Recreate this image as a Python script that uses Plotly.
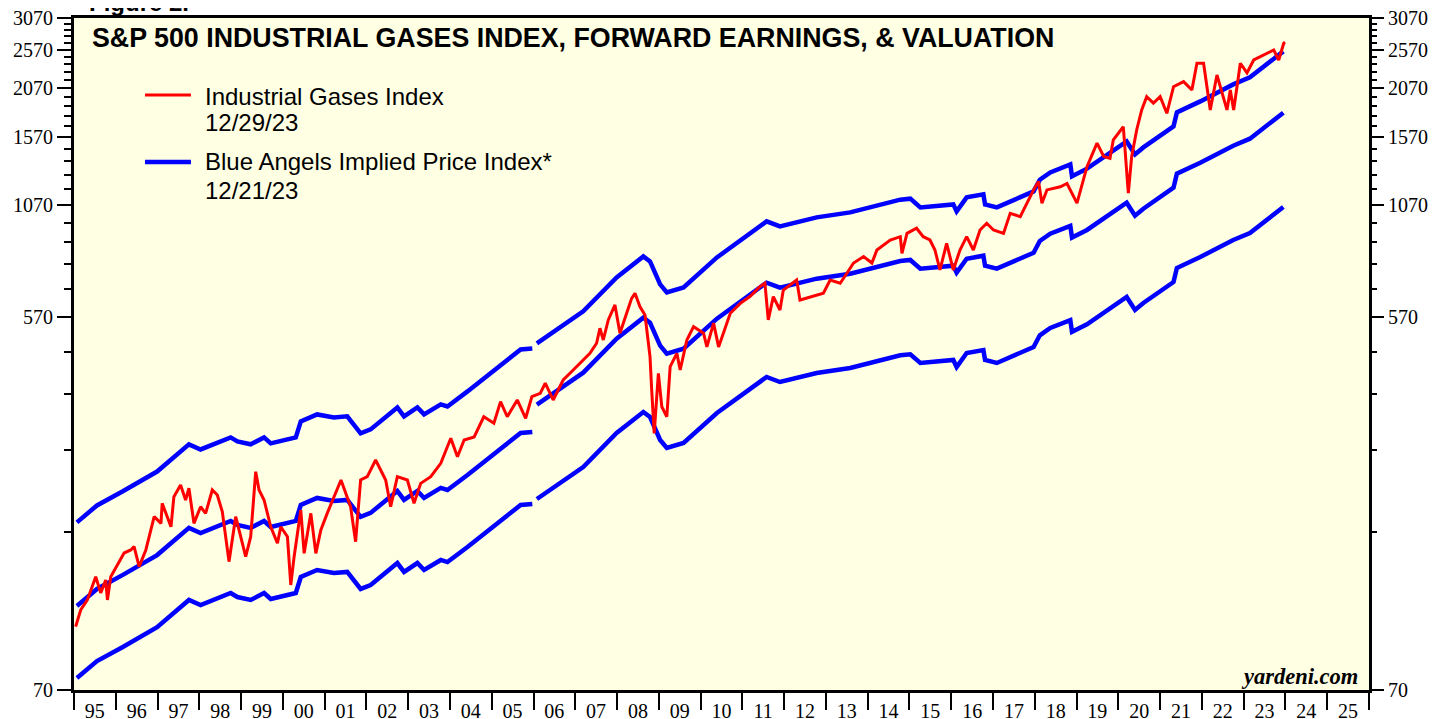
import math
import plotly.graph_objects as go
from datetime import datetime, timedelta

# ---------------- DATA ----------------
# S&P 500 Industrial Gases Index (decimal year, index level)
red_years = [1995.04, 1995.16, 1995.32, 1995.52, 1995.64, 1995.76, 1995.80, 1995.88, 1996.20, 1996.36,
             1996.44, 1996.56, 1996.72, 1996.92, 1997.08, 1997.11, 1997.32, 1997.39, 1997.55, 1997.67,
             1997.75, 1997.87, 1998.03, 1998.15, 1998.31, 1998.43, 1998.55, 1998.71, 1998.87, 1998.99,
             1999.11, 1999.23, 1999.35, 1999.43, 1999.55, 1999.71, 1999.87, 1999.95, 2000.11, 2000.19,
             2000.27, 2000.43, 2000.51, 2000.67, 2000.79, 2000.91, 2001.06, 2001.39, 2001.54, 2001.62,
             2001.74, 2001.86, 2002.02, 2002.22, 2002.34, 2002.46, 2002.58, 2002.74, 2002.98, 2003.14,
             2003.30, 2003.54, 2003.78, 2004.02, 2004.18, 2004.34, 2004.58, 2004.81, 2005.05, 2005.21,
             2005.37, 2005.61, 2005.81, 2005.96, 2006.16, 2006.28, 2006.47, 2006.71, 2006.95, 2007.11,
             2007.35, 2007.51, 2007.59, 2007.67, 2007.79, 2007.95, 2008.07, 2008.23, 2008.35, 2008.43,
             2008.55, 2008.67, 2008.79, 2008.83, 2008.89, 2008.99, 2009.07, 2009.19, 2009.27, 2009.43,
             2009.51, 2009.67, 2009.83, 2010.07, 2010.15, 2010.31, 2010.43, 2010.71, 2010.95, 2011.18,
             2011.42, 2011.54, 2011.62, 2011.74, 2011.90, 2011.98, 2012.30, 2012.38, 2012.70, 2012.94,
             2013.10, 2013.34, 2013.50, 2013.66, 2013.90, 2014.10, 2014.22, 2014.54, 2014.78, 2014.82,
             2014.94, 2015.17, 2015.33, 2015.49, 2015.61, 2015.73, 2015.89, 2016.05, 2016.21, 2016.37,
             2016.53, 2016.69, 2016.85, 2017.01, 2017.25, 2017.41, 2017.65, 2017.81, 2017.97, 2018.09,
             2018.17, 2018.29, 2018.61, 2018.77, 2018.85, 2019.01, 2019.25, 2019.49, 2019.65, 2019.80,
             2019.88, 2020.12, 2020.24, 2020.32, 2020.44, 2020.56, 2020.68, 2020.84, 2021.00, 2021.16,
             2021.32, 2021.56, 2021.76, 2021.88, 2022.04, 2022.20, 2022.36, 2022.52, 2022.60, 2022.68,
             2022.76, 2022.92, 2023.08, 2023.24, 2023.40, 2023.56, 2023.72, 2023.84, 2023.96, 2023.99]
red_values = [100, 109.8, 116.2, 132.4, 120.9, 130.0, 116.2, 132.4, 151.3, 153.9,
              156.8, 140.1, 153.9, 185.6, 178.8, 200.1, 175.4, 207.7, 221.9, 203.9,
              217.8, 178.8, 196.3, 189.1, 215.7, 209.7, 190.8, 144.1, 185.6, 165.9,
              148.2, 165.9, 239.1, 215.7, 203.9, 175.4, 159.8, 175.4, 165.9, 126.4,
              148.2, 192.7, 151.0, 189.1, 151.0, 172.2, 189.1, 228.2, 207.7, 196.3,
              161.2, 228.2, 232.5, 255.3, 241.4, 228.2, 196.3, 232.5, 228.2, 200.1,
              223.9, 232.5, 250.6, 288.5, 260.1, 285.8, 290.6, 325.7, 314.0, 354.5,
              325.7, 357.9, 322.9, 364.6, 371.6, 393.3, 357.9, 400.5, 423.7, 439.9,
              465.3, 492.5, 535.8, 501.6, 561.4, 610.9, 520.9, 582.9, 634.2, 652.3,
              604.8, 577.4, 456.6, 378.6, 296.6, 415.9, 344.6, 325.7, 432.0, 465.3,
              423.7, 501.6, 540.6, 520.9, 482.5, 551.6, 482.5, 582.9, 616.5, 640.3,
              677.4, 690.3, 561.4, 640.3, 593.8, 664.5, 703.0, 628.2, 640.3, 652.3,
              703.0, 690.3, 730.1, 773.3, 802.0, 773.3, 832.3, 880.5, 897.0, 817.0,
              913.9, 940.5, 897.0, 880.5, 832.3, 743.6, 863.9, 743.6, 832.3, 897.0,
              832.3, 931.4, 967.2, 931.4, 913.9, 1023, 1004, 1083, 1167, 1223,
              1083, 1167, 1188, 1210, 1167, 1083, 1330, 1518, 1408, 1394,
              1546, 1665, 1146, 1408, 1635, 1830, 1972, 1901, 1972, 1796,
              2086, 2146, 2047, 2380, 2380, 1830, 2228, 1936, 1830, 2047,
              1830, 2380, 2254, 2424, 2470, 2516, 2564, 2424, 2664, 2680]

# Forward earnings (decimal year, $/share), series before and after the 2006 break
eps_years_pre = [1995.07, 1995.55, 1996.17, 1996.82, 1996.99, 1997.75, 1998.03, 1998.75, 1998.91, 1999.23,
                 1999.55, 1999.71, 2000.11, 2000.31, 2000.43, 2000.82, 2001.22, 2001.54, 2001.86, 2002.10,
                 2002.74, 2002.90, 2003.22, 2003.38, 2003.78, 2003.94, 2004.42, 2005.13, 2005.69, 2005.97]
eps_values_pre = [7.49, 8.24, 8.92, 9.70, 9.97, 11.62, 11.29, 12.08, 11.81, 11.62,
                  12.08, 11.68, 11.95, 12.08, 13.22, 13.75, 13.52, 13.60, 12.36, 12.64,
                  14.30, 13.60, 14.30, 13.75, 14.55, 14.38, 15.65, 17.91, 19.82, 19.93]
eps_years_post = [2006.08, 2007.19, 2007.99, 2008.63, 2008.79, 2009.03, 2009.19, 2009.59, 2010.39, 2011.18,
                  2011.58, 2011.90, 2012.78, 2013.58, 2014.78, 2015.02, 2015.26, 2016.05, 2016.13, 2016.37,
                  2016.77, 2016.81, 2017.09, 2017.97, 2018.12, 2018.37, 2018.75, 2018.85, 2018.89, 2019.25,
                  2020.20, 2020.40, 2020.60, 2021.32, 2021.40, 2021.96, 2022.75, 2023.15, 2023.95]
eps_values_post = [20.50, 24.55, 29.72, 33.45, 32.52, 28.58, 27.32, 28.10, 33.26, 37.86,
                   40.73, 39.60, 41.66, 42.85, 46.03, 46.29, 44.07, 44.82, 43.09, 46.62,
                   47.41, 44.82, 44.07, 48.22, 51.5, 53.66, 55.8, 56.1, 52.5, 54.8,
                   63.88, 59.38, 61.76, 69.51, 75.21, 80.01, 88.05, 91.58, 106.0]

multiples_pre = [24, 15, 10]
multiples_post = [24, 17, 10]
multiple_labels = ["x24", "x17", "x10"]

y_major = [70, 570, 1070, 1570, 2070, 2570, 3070]
y_minor = [v for v in range(170, 3070, 100) if v not in y_major]
year_labels = ["95", "96", "97", "98", "99", "00", "01", "02", "03", "04", "05", "06", "07", "08", "09",
               "10", "11", "12", "13", "14", "15", "16", "17", "18", "19", "20", "21", "22", "23", "24", "25"]
first_year = 1995


def to_date(y):
    yr = int(y)
    return datetime(yr, 1, 1) + timedelta(days=(y - yr) * 365.25)


red_dates = [to_date(y) for y in red_years]
pre_dates = [to_date(y) for y in eps_years_pre]
post_dates = [to_date(y) for y in eps_years_post]

RED = "#FF0000"
BLUE = "#0000FF"
SERIF = "Liberation Serif, Times New Roman, serif"
SANS = "Liberation Sans, Arial, sans-serif"

fig = go.Figure()

for m in multiples_pre:
    fig.add_trace(go.Scatter(x=pre_dates, y=[e * m for e in eps_values_pre], mode="lines",
                             line=dict(color=BLUE, width=4.5), showlegend=False, hoverinfo="skip"))
for m in multiples_post:
    fig.add_trace(go.Scatter(x=post_dates, y=[e * m for e in eps_values_post], mode="lines",
                             line=dict(color=BLUE, width=4.5), showlegend=False, hoverinfo="skip"))

fig.add_trace(go.Scatter(x=red_dates, y=red_values, mode="lines",
                         line=dict(color=RED, width=3), showlegend=False))

# empty trace to carry the right-hand axis
fig.add_trace(go.Scatter(x=[None], y=[None], yaxis="y2", showlegend=False, hoverinfo="skip"))

# multiple labels at the right end of each blue line
for m, lab in zip(multiples_post, multiple_labels):
    fig.add_annotation(x=post_dates[-1], y=eps_values_post[-1] * m, text=lab, showarrow=False,
                       xanchor="left", yanchor="middle", xshift=10,
                       font=dict(family=SANS, size=20, color=BLUE))

xstart = datetime(first_year, 1, 1)
xend = datetime(first_year + len(year_labels), 1, 1)
mid_ticks = [datetime(first_year + i, 7, 2) for i in range(len(year_labels))]
year_bounds = [datetime(first_year + i, 1, 1) for i in range(len(year_labels) + 1)]

yrange = [math.log10(70), math.log10(3070)]

yaxis_common = dict(type="log", range=yrange, tickmode="array", tickvals=y_major,
                    ticktext=[str(v) for v in y_major], ticks="outside", ticklen=14, tickwidth=2,
                    tickcolor="black", showgrid=False, zeroline=False, automargin=False,
                    ticklabeloverflow="allow",
                    tickfont=dict(family=SERIF, size=20, color="black"),
                    minor=dict(tickmode="array", tickvals=y_minor, ticks="outside", ticklen=7,
                               tickwidth=2, tickcolor="black", showgrid=False))

# the page adds an 8px body margin, so the margins below compensate for it
fig.update_layout(
    width=1437, height=719,
    margin=dict(l=66, r=76, t=10, b=37),
    paper_bgcolor="white", plot_bgcolor="#FFFFE4",
    xaxis=dict(type="date", range=[xstart, xend], tickmode="array", tickvals=mid_ticks,
               ticktext=year_labels, ticks="outside", ticklen=1, tickcolor="rgba(0,0,0,0)",
               showgrid=False, zeroline=False, showline=True, linewidth=3, linecolor="black",
               mirror=True, automargin=False, ticklabeloverflow="allow",
               tickfont=dict(family=SERIF, size=20, color="black"),
               minor=dict(tickmode="array", tickvals=year_bounds, ticks="outside", ticklen=17,
                          tickwidth=2, tickcolor="black", showgrid=False)),
    yaxis=dict(showline=True, linewidth=3, linecolor="black", mirror=True, **yaxis_common),
    yaxis2=dict(overlaying="y", side="right", showline=False, **yaxis_common),
    showlegend=False,
)

# title and figure label
fig.add_annotation(xref="paper", yref="paper", x=0.0124, y=0.9702, xanchor="left", yanchor="middle",
                   text="<b>S&P 500 INDUSTRIAL GASES INDEX, FORWARD EARNINGS, & VALUATION</b>",
                   showarrow=False, font=dict(family=SANS, size=26.8, color="black"))
fig.add_annotation(xref="paper", yref="paper", x=0.010, y=1.0238, xanchor="left", yanchor="middle",
                   text="<b>Figure 2.</b>", showarrow=False, font=dict(family=SANS, size=24, color="black"))

# legend (drawn manually for exact placement)
fig.add_shape(type="line", xref="paper", yref="paper", x0=0.0548, x1=0.0903, y0=0.8854, y1=0.8854,
              line=dict(color=RED, width=3))
fig.add_shape(type="line", xref="paper", yref="paper", x0=0.0548, x1=0.0903, y0=0.7857, y1=0.7857,
              line=dict(color=BLUE, width=4.5))
legend_texts = [("Industrial Gases Index", 0.8839), ("12/29/23", 0.8438),
                ("Blue Angels Implied Price Index*", 0.7872), ("12/21/23", 0.7426)]
for txt, yp in legend_texts:
    fig.add_annotation(xref="paper", yref="paper", x=0.0995, y=yp, xanchor="left", yanchor="middle",
                       text=txt, showarrow=False, font=dict(family=SANS, size=24, color="black"))

fig.add_annotation(xref="paper", yref="paper", x=0.993, y=-0.001, xanchor="right", yanchor="bottom",
                   text="<b><i>yardeni.com</i></b>", showarrow=False,
                   font=dict(family=SERIF, size=22.5, color="black"))

fig.write_html("out.html")
